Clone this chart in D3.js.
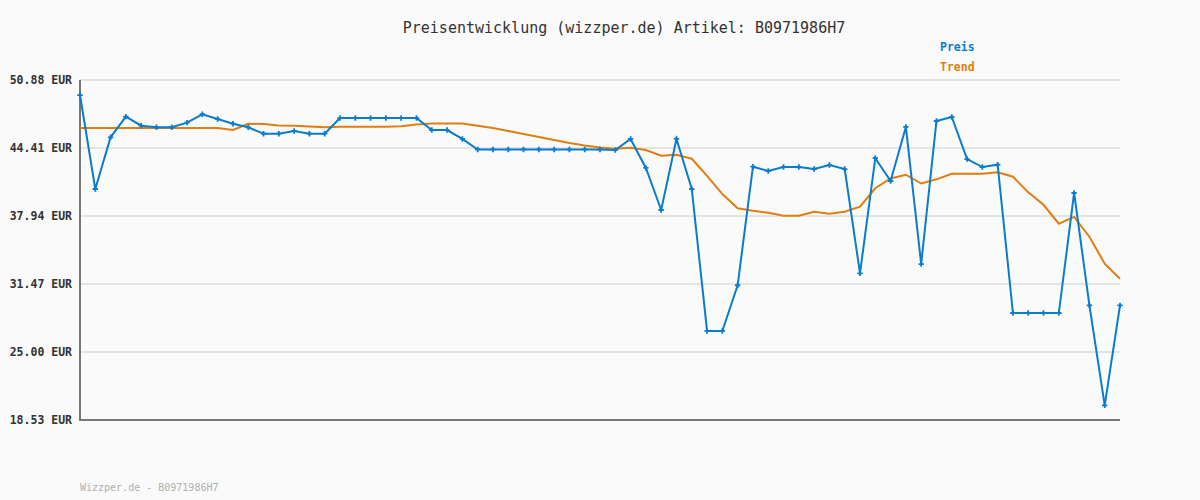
<!DOCTYPE html>
<html>
<head>
<meta charset="utf-8">
<script src="https://cdn.jsdelivr.net/npm/d3@7"></script>
<style>
  html, body { margin: 0; padding: 0; background: #fafafa; }
  svg { display: block; }
  text { font-family: "DejaVu Sans Mono", monospace; }
</style>
</head>
<body>
<svg id="chart" width="1200" height="500"></svg>
<script>
const preis = [
  49.45, 40.51, 45.43, 47.39, 46.53, 46.38, 46.38, 46.82, 47.62, 47.17,
  46.72, 46.38, 45.77, 45.77, 46.03, 45.77, 45.77, 47.26, 47.26, 47.26,
  47.26, 47.26, 47.26, 46.12, 46.12, 45.27, 44.27, 44.27, 44.27, 44.27,
  44.27, 44.27, 44.27, 44.27, 44.27, 44.22, 45.27, 42.51, 38.51, 45.27,
  40.51, 27.00, 27.00, 31.35, 42.63, 42.22, 42.60, 42.60, 42.41, 42.79,
  42.41, 32.49, 43.44, 41.27, 46.41, 33.37, 46.98, 47.36, 43.36, 42.60,
  42.82, 28.71, 28.71, 28.71, 28.71, 40.13, 29.44, 19.93, 29.44
]

const trend = [
  46.31, 46.31, 46.31, 46.31, 46.31, 46.31, 46.31, 46.31, 46.31, 46.31,
  46.12, 46.72, 46.69, 46.55, 46.53, 46.46, 46.38, 46.44, 46.44, 46.44,
  46.44, 46.47, 46.65, 46.74, 46.74, 46.74, 46.53, 46.31, 46.03, 45.74,
  45.46, 45.17, 44.89, 44.65, 44.46, 44.34, 44.44, 44.22, 43.68, 43.77,
  43.39, 41.75, 40.03, 38.67, 38.44, 38.25, 37.97, 37.97, 38.35, 38.16,
  38.35, 38.83, 40.58, 41.51, 41.87, 41.03, 41.43, 41.96, 41.96, 41.96,
  42.10, 41.68, 40.19, 39.01, 37.21, 37.85, 35.97, 33.40, 31.97
]

const yTicks = [18.53, 25.00, 31.47, 37.94, 44.41, 50.88]
const title = 'Preisentwicklung (wizzper.de) Artikel: B0971986H7'
const footer = 'Wizzper.de - B0971986H7'

const blue = '#0a7ccc'
const orange = '#e07e10'

const margin = { top: 80, right: 80, bottom: 80, left: 80 }
const width = 1200
const height = 500

const svg = d3.select('#chart')

const x = d3.scaleLinear()
  .domain([0, preis.length - 1])
  .range([margin.left, width - margin.right])

const y = d3.scaleLinear()
  .domain([yTicks[0], yTicks[yTicks.length - 1]])
  .range([height - margin.bottom, margin.top])

// grid
svg.append('g')
  .selectAll('line')
  .data(yTicks)
  .join('line')
  .attr('x1', margin.left)
  .attr('x2', width - margin.right)
  .attr('y1', d => y(d))
  .attr('y2', d => y(d))
  .attr('stroke', '#e4e4e4')
  .attr('stroke-width', 2)

// y axis labels
const yAxis = svg.append('g')
  .attr('transform', `translate(${margin.left},0)`)
  .call(d3.axisLeft(y).tickValues(yTicks).tickSize(0).tickPadding(8)
    .tickFormat(d => d3.format('.2f')(d) + ' EUR'))
yAxis.select('.domain').remove()
yAxis.selectAll('text')
  .attr('font-family', '"DejaVu Sans Mono", monospace')
  .attr('font-size', 11.5)
  .attr('font-weight', 'bold')
  .attr('fill', '#333')

// axis lines
svg.append('line')
  .attr('x1', margin.left).attr('x2', margin.left)
  .attr('y1', margin.top).attr('y2', height - margin.bottom + 1)
  .attr('stroke', '#777').attr('stroke-width', 2)
svg.append('line')
  .attr('x1', margin.left - 1).attr('x2', width - margin.right)
  .attr('y1', height - margin.bottom).attr('y2', height - margin.bottom)
  .attr('stroke', '#777').attr('stroke-width', 2)

const line = d3.line()
  .x((d, i) => x(i))
  .y(d => y(d))

svg.append('path')
  .datum(trend)
  .attr('fill', 'none')
  .attr('stroke', orange)
  .attr('stroke-width', 2)
  .attr('d', line)

svg.append('path')
  .datum(preis)
  .attr('fill', 'none')
  .attr('stroke', blue)
  .attr('stroke-width', 2)
  .attr('d', line)

svg.append('g')
  .selectAll('path')
  .data(preis)
  .join('path')
  .attr('transform', (d, i) => `translate(${x(i)},${y(d)})`)
  .attr('d', d3.symbol(d3.symbolCross, 16))
  .attr('fill', blue)

// title
svg.append('text')
  .attr('x', 624)
  .attr('y', 33)
  .attr('text-anchor', 'middle')
  .attr('font-size', 15)
  .attr('fill', '#333')
  .text(title)

// legend
svg.append('text')
  .attr('x', 940).attr('y', 51)
  .attr('font-size', 11.5).attr('font-weight', 'bold')
  .attr('fill', blue).text('Preis')
svg.append('text')
  .attr('x', 940).attr('y', 71)
  .attr('font-size', 11.5).attr('font-weight', 'bold')
  .attr('fill', orange).text('Trend')

// footer
svg.append('text')
  .attr('x', 80).attr('y', 491)
  .attr('font-size', 10)
  .attr('fill', '#b0b0b0')
  .text(footer)
</script>
</body>
</html>
